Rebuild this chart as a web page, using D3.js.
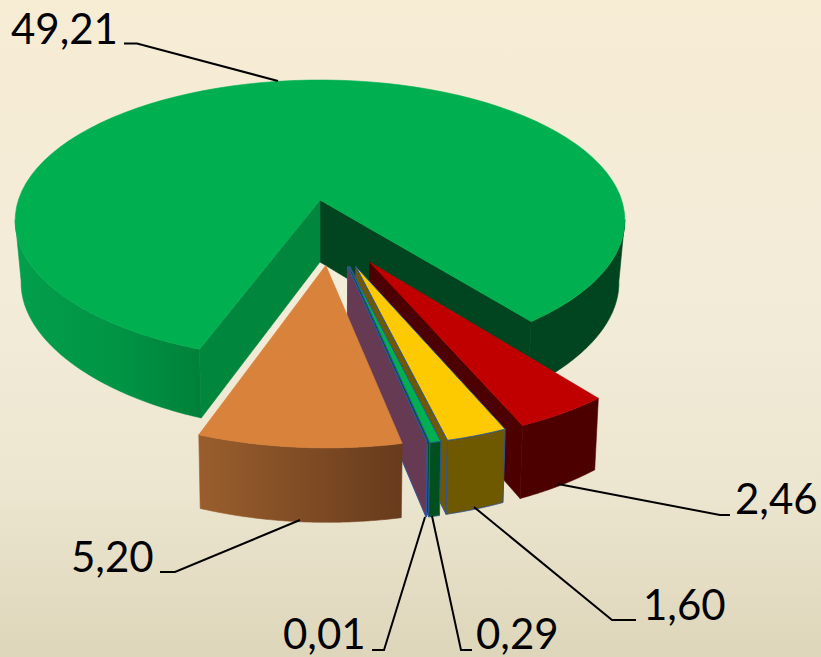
<!DOCTYPE html>
<html><head><meta charset="utf-8">
<script src="https://cdn.jsdelivr.net/npm/d3@7"></script>
<style>html,body{margin:0;padding:0;background:#f3ecd8;overflow:hidden}svg{display:block}text{font-family:Lato,sans-serif;font-size:42px;fill:#000}</style>
</head><body><svg id="c" width="821" height="657"></svg>
<script>
const categories = ["A","B","C","D","E","F"];
const values = [49.21, 2.46, 1.60, 0.29, 0.01, 5.20];
const tickLabels = ["49,21","2,46","1,60","0,29","0,01","5,20"];
const topColors = ["#00b050","#c00000","#fdc900","#00b050","#663a53","#d9823b"];
const cutColors = ["#00863d","#4d0000","#6e5800","#00501f","#663a53","#6b3f1e"];
const wallStart = ["#029f4c","#4d0000","#6e5800","#00501f","#663a53","#9a5e2d"];
const wallEnd = ["#007f39","#4d0000","#6e5800","#00501f","#663a53","#673b1c"];
const strokes = [null,null,"#2f5597","#2f5597","#2f5597",null];
// explode offsets and radii on the pie plane
const explodeU = [0,.155,.111,.092,.086,.018];
const explodeV = [0,-.425,-.452,-.452,-.452,-.445];
const radii = [1,.98,.97,.975,.975,.985];
const labelX = [11,735,643,476,283,71], labelY=[44,514,620,649,649,572];
const leaders = [[[124,43.5],[137,43.5],[278,81]],[[558,484],[720,515],[730,515]],[[474,507],[612,620],[636,620]],
 [[432,516],[461,650],[472,650]],[[425,517],[384,650],[372,650]],[[300,520],[175,572],[160,572]]];

const svg=d3.select("#c"), defs=svg.append("defs");
const bg=defs.append("linearGradient").attr("id","bg").attr("x1",0).attr("y1",0).attr("x2",0).attr("y2",1);
[[0,"#f7ecd4"],[.45,"#f3ecd9"],[.75,"#ece5cf"],[1,"#ded6ba"]].forEach(s=>bg.append("stop").attr("offset",s[0]).attr("stop-color",s[1]));
svg.append("rect").attr("width",821).attr("height",657).attr("fill","url(#bg)");

const deg=Math.PI/180, K=.145, CX=320;
const top_=(u,v)=>{const d=1+K*v;return [CX+301.6*u/d,200-137.4*v/d]};
const bot=(u,v,i)=>{const d=1+.15*v;
 if(i===0){const e=1+.2*v;return [CX+295.5*u/d,262-135*v/e]}
 return [CX+295.5*u/d,262-143*v/d]};
const line=d3.line();
const pie=d3.pie().sort(null).startAngle(200.2*deg).endAngle(560.2*deg)(values);
const pt=(i,a)=>[explodeU[i]+radii[i]*Math.sin(a),explodeV[i]+radii[i]*Math.cos(a)];
const arcPts=(i,a0,a1,n=90)=>d3.range(n+1).map(k=>pt(i,a0+(a1-a0)*k/n));
const grad=(id,x0,x1,stops)=>{const g=defs.append("linearGradient").attr("id",id).attr("gradientUnits","userSpaceOnUse").attr("x1",x0).attr("x2",x1).attr("y1",0).attr("y2",0);
 stops.forEach(s=>g.append("stop").attr("offset",s[0]).attr("stop-color",s[1]));return `url(#${id})`};
const poly=(pts,fill,stroke)=>svg.append("path").attr("d",line(pts)+"Z").attr("fill",fill).attr("stroke",stroke||fill).attr("stroke-width",stroke?1:.6).attr("stroke-linejoin","round");

function wall(i,a0,a1,fill,stroke){const A=arcPts(i,a0,a1);
 poly(A.map(p=>top_(...p)).concat(A.slice().reverse().map(p=>bot(p[0],p[1],i))),fill,stroke)}
function cut(i,a,fill,stroke){const p=pt(i,a),o=[explodeU[i],explodeV[i]];
 poly([top_(...o),top_(...p),bot(p[0],p[1],i),bot(o[0],o[1],i)],fill,stroke)}
function topFace(i,a0,a1,fill,stroke){const o=[explodeU[i],explodeV[i]];
 poly([top_(...o)].concat(arcPts(i,a0,a1).map(p=>top_(...p))),fill,stroke)}

// large slice
const g0=pie[0];
wall(0,g0.startAngle,262*deg,grad("gl",15,205,[[0,wallStart[0]],[.55,"#009445"],[1,wallEnd[0]]]));
wall(0,98*deg+360*deg,g0.endAngle,"#00451f");
cut(0,g0.endAngle,"#00451f");
cut(0,g0.startAngle,cutColors[0]);
topFace(0,g0.startAngle,g0.endAngle,topColors[0]);

// exploded slices
pie.slice(1).forEach((p,j)=>{const i=j+1;
 const norm=p.endAngle-2*Math.PI, a0=p.startAngle-2*Math.PI;
 if(norm<180*deg) cut(i,norm,cutColors[i],strokes[i]);
 const xs=arcPts(i,a0,norm).map(q=>top_(...q)[0]);
 const fill=grad("w"+i,d3.max(xs),d3.min(xs),[[0,wallEnd[i]],[1,wallStart[i]]]);
 wall(i,a0,norm,fill,strokes[i]);
 topFace(i,a0,norm,topColors[i],strokes[i]);
});

// leaders + labels
leaders.forEach(l=>svg.append("path").attr("d",line(l)).attr("fill","none").attr("stroke","#000").attr("stroke-width",2));
svg.selectAll("text.l").data(tickLabels).join("text").attr("class","l").attr("x",(d,i)=>labelX[i]).attr("y",(d,i)=>labelY[i]).text(d=>d);
</script></body></html>
